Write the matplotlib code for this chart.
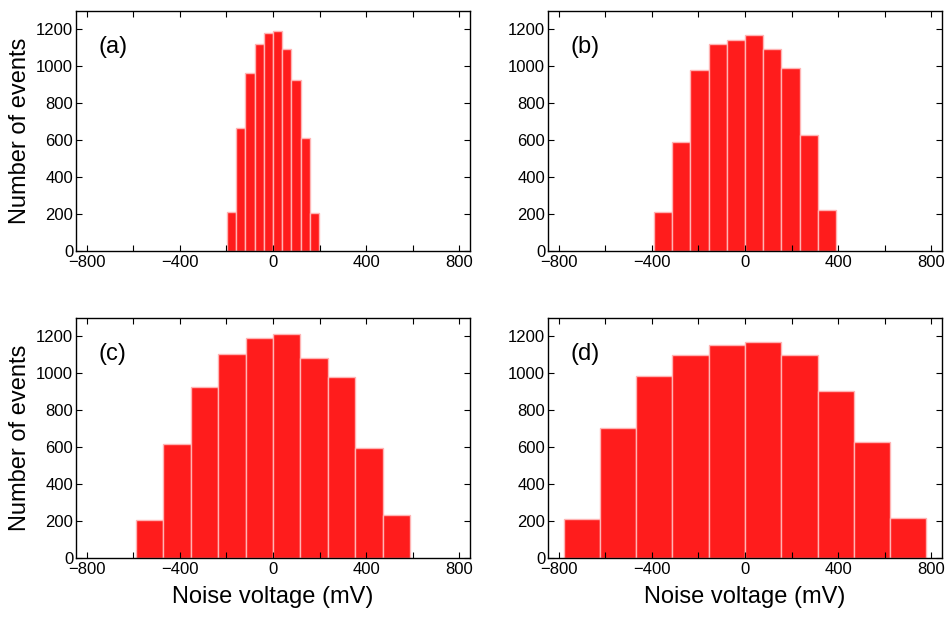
import numpy as np
import matplotlib
matplotlib.use("Agg")
import matplotlib.pyplot as plt
from matplotlib.ticker import MultipleLocator

plt.rcParams['font.family'] = ['Liberation Sans', 'DejaVu Sans']

# histogram counts, 10 bins per panel
labels = ["(a)", "(b)", "(c)", "(d)"]
half_ranges = [198, 392, 590, 780]   # mV, symmetric bin range
counts_a = [211, 667, 966, 1119, 1182, 1191, 1092, 924, 614, 204]
counts_b = [213, 591, 982, 1123, 1142, 1171, 1095, 989, 631, 220]
counts_c = [204, 618, 926, 1105, 1191, 1216, 1086, 980, 596, 234]
counts_d = [209, 703, 984, 1097, 1153, 1168, 1097, 906, 629, 216]
all_counts = [counts_a, counts_b, counts_c, counts_d]

xticks = [-800, -400, 0, 400, 800]
yticks = [0, 200, 400, 600, 800, 1000, 1200]

fig = plt.figure(figsize=(9.47, 6.17), dpi=100)
W, H = 947, 617
# axes boxes in pixels: left, top, right, bottom
boxes = [(76, 11, 470, 251), (548, 11, 942, 251),
         (76, 318, 470, 558), (548, 318, 942, 558)]

for i, (lab, hr, cnt) in enumerate(zip(labels, half_ranges, all_counts)):
    l, t, r, b = boxes[i]
    ax = fig.add_axes([l / W, (H - b) / H, (r - l) / W, (b - t) / H])
    edges = np.linspace(-hr, hr, len(cnt) + 1)
    ax.bar(edges[:-1], cnt, width=np.diff(edges), align='edge',
           color='#ff1c1c', edgecolor='#ffb4b4', linewidth=1.0)
    ax.set_xlim(-847, 847)
    ax.set_ylim(0, 1300)
    ax.set_xticks(xticks)
    ax.set_yticks(yticks)
    ax.xaxis.set_minor_locator(MultipleLocator(200))
    ax.tick_params(which='both', direction='in', top=True, right=True,
                   labelsize=12)
    ax.tick_params(which='major', length=4, width=0.8)
    ax.tick_params(which='minor', length=4, width=0.8)
    ax.tick_params(axis='x', pad=3)
    ax.tick_params(axis='y', pad=2)
    for sp in ax.spines.values():
        sp.set_linewidth(1.0)
    ax.text(0.056, 0.85, lab, transform=ax.transAxes, fontsize=17,
            ha='left', va='center')
    if i % 2 == 0:
        ax.set_ylabel("Number of events", fontsize=17, labelpad=4)
    if i >= 2:
        ax.set_xlabel("Noise voltage (mV)", fontsize=17, labelpad=6)

fig.savefig("out.png", dpi=100)
